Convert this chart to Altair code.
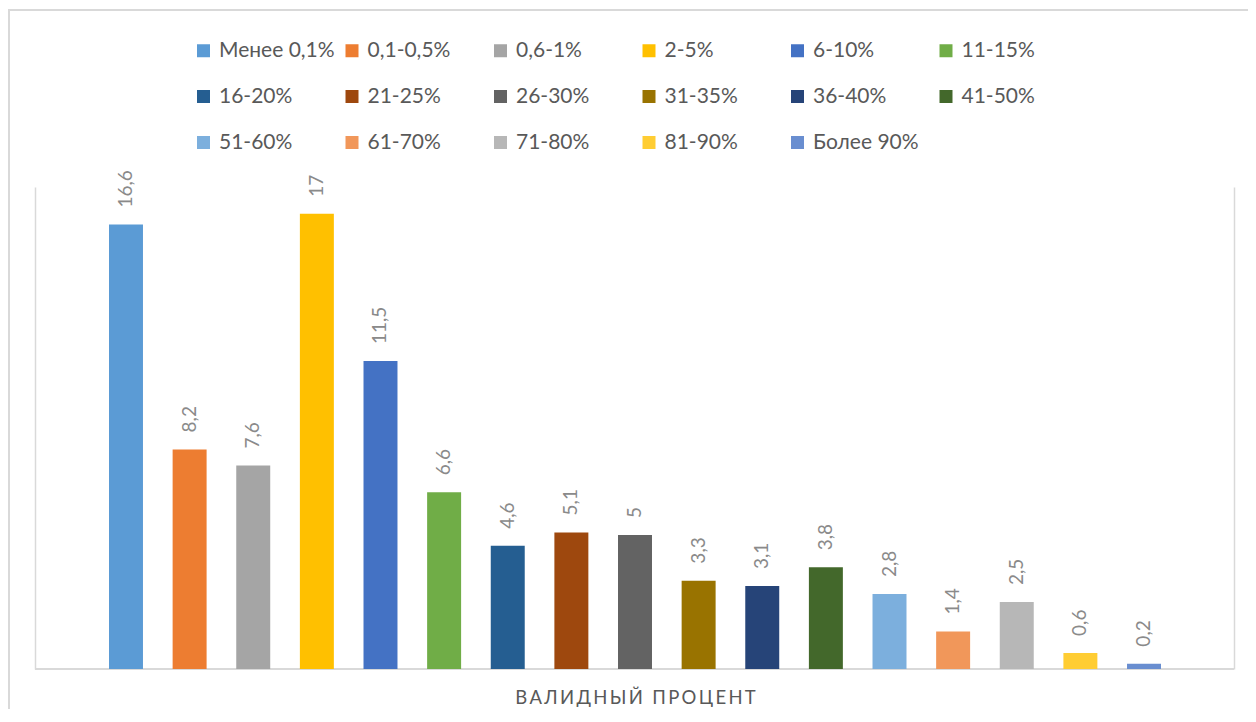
import altair as alt
import pandas as pd

categories = ["Менее 0,1%", "0,1-0,5%", "0,6-1%", "2-5%", "6-10%", "11-15%",
              "16-20%", "21-25%", "26-30%", "31-35%", "36-40%", "41-50%",
              "51-60%", "61-70%", "71-80%", "81-90%", "Более 90%"]
values = [16.6, 8.2, 7.6, 17, 11.5, 6.6, 4.6, 5.1, 5, 3.3, 3.1, 3.8, 2.8, 1.4, 2.5, 0.6, 0.2]
colors = ["#5B9BD5", "#ED7D31", "#A5A5A5", "#FFC000", "#4472C4", "#70AD47",
          "#255E91", "#9E480E", "#636363", "#997300", "#264478", "#43682B",
          "#7CAFDD", "#F1975A", "#B7B7B7", "#FFCD33", "#698ED0"]
x_title = "ВАЛИДНЫЙ ПРОЦЕНТ"

df = pd.DataFrame({
    "cat": categories,
    "val": values,
    "lab": [f"{v:g}".replace(".", ",") for v in values],
})

W, H = 1199, 482
FONT = "Lato"
GRID = "#d9d9d9"
spaced_title = "\u2009".join(list(x_title))

x_scale = alt.Scale(paddingInner=0.466, paddingOuter=0, range=[74, 1126])
x_enc = alt.X("cat:N", sort=categories, scale=x_scale,
              axis=alt.Axis(labels=False, ticks=False, domain=False,
                            title=spaced_title, titleFont=FONT, titleFontSize=18.5,
                            titleFontWeight="normal", titleColor="#595959",
                            titlePadding=19))
y_scale = alt.Scale(domain=[0, 18])

base = alt.Chart(df)

bars = base.mark_bar().encode(
    x=x_enc,
    y=alt.Y("val:Q", scale=y_scale,
            axis=alt.Axis(orient="left", labels=False, ticks=False, grid=False,
                          domainColor=GRID, domainWidth=1.5, title=None)),
    color=alt.Color("cat:N",
                    scale=alt.Scale(domain=categories, range=colors),
                    sort=categories,
                    legend=alt.Legend(title=None, orient="none", direction="horizontal",
                                      legendX=158, legendY=-147,
                                      columns=6, gridAlign="all", columnPadding=6.5,
                                      rowPadding=24, symbolType="square", symbolSize=169,
                                      symbolStrokeWidth=0, symbolOpacity=1,
                                      labelFont=FONT, labelFontSize=21,
                                      labelColor="#595959", labelOffset=5,
                                      padding=0, labelLimit=300)),
)

text = base.mark_text(angle=270, align="left", baseline="middle", dx=17,
                      font=FONT, fontSize=19, color="#8a8a8a").encode(
    x=alt.X("cat:N", sort=categories),
    y=alt.Y("val:Q", scale=y_scale,
            axis=alt.Axis(orient="right", labels=False, ticks=False, grid=False,
                          domainColor=GRID, domainWidth=1.5, title=None)),
    text="lab:N",
)

frame_df = pd.DataFrame({"k": [0]})
bottom = alt.Chart(frame_df).mark_rule(color=GRID, strokeWidth=2).encode(
    x=alt.value(0), x2=alt.value(W), y=alt.value(H))
outer_left = alt.Chart(frame_df).mark_rule(color=GRID, strokeWidth=2).encode(
    x=alt.value(-26), y=alt.value(-177), y2=alt.value(H + 40))
outer_top = alt.Chart(frame_df).mark_rule(color=GRID, strokeWidth=2).encode(
    x=alt.value(-27), x2=alt.value(W + 14), y=alt.value(-177))

chart = alt.layer(outer_left, outer_top, bottom, bars, text).resolve_axis(y="independent").properties(
    width=W, height=H,
    autosize=alt.AutoSizeParams(type="none"),
    padding={"left": 27, "top": 179, "right": 14, "bottom": 45},
).configure_view(strokeWidth=0)

chart.save("out.html", embed_options={"renderer": "svg", "actions": False})
